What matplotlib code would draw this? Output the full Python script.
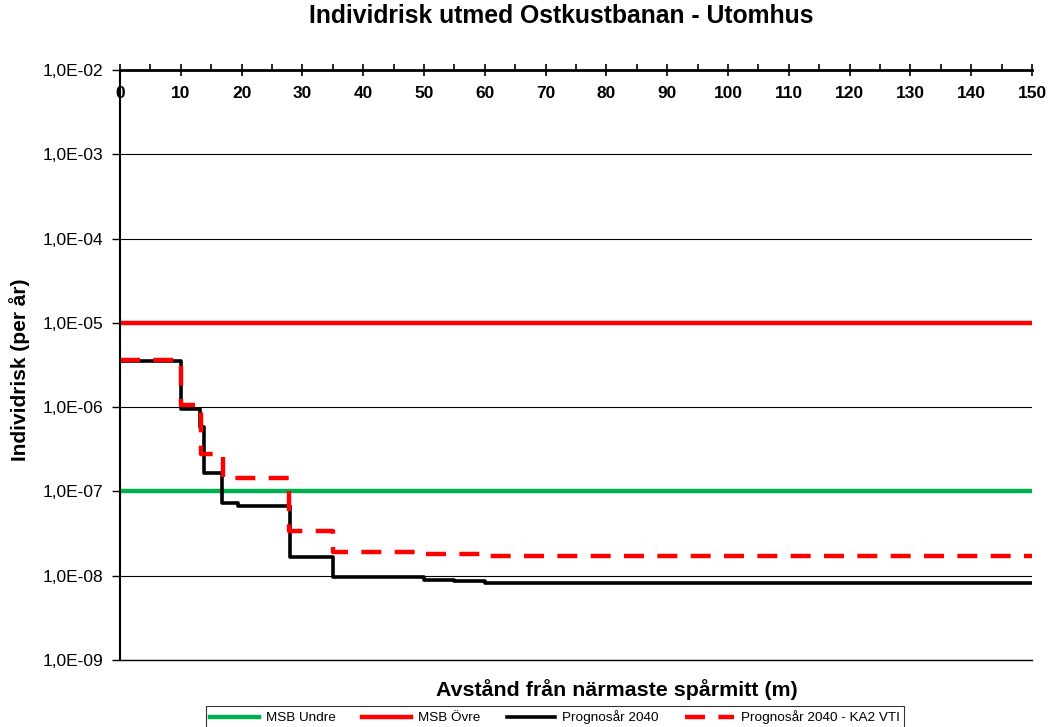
import matplotlib.pyplot as plt
from matplotlib.ticker import FixedLocator, FuncFormatter, MultipleLocator, NullLocator
import numpy as np

plt.rcParams['font.family'] = ['Liberation Sans', 'DejaVu Sans']

# avstånd (m) där stegen börjar och risknivå (per år)
x_prognos = [0, 10, 13.2, 13.8, 16.8, 19.4, 28, 35, 50, 55, 60, 150]
y_prognos = [3.5e-6, 9.5e-7, 5.8e-7, 1.65e-7, 7.3e-8, 6.8e-8, 1.65e-8,
             9.6e-9, 9.0e-9, 8.6e-9, 8.3e-9, 8.3e-9]

x_ka2 = [0, 10, 13.4, 17, 27.8, 35, 50, 60, 150]
y_ka2 = [3.6e-6, 1.07e-6, 2.8e-7, 1.45e-7, 3.4e-8, 1.9e-8, 1.8e-8, 1.7e-8, 1.7e-8]

msb_undre = 1e-7
msb_ovre = 1e-5
x_range = [0, 150]
y_ticks = [1e-9, 1e-8, 1e-7, 1e-6, 1e-5, 1e-4, 1e-3, 1e-2]


def sci_comma(v, pos):
    e = int(round(np.log10(v)))
    return f"1,0E{e:03d}"


fig = plt.figure(figsize=(10.51, 7.27), dpi=100)
ax = fig.add_axes([120 / 1051, 1 - 660 / 727, 912 / 1051, 590 / 727])

ax.plot(x_range, [msb_undre, msb_undre], color='#00b050', lw=3.2, label='MSB Undre')
ax.plot(x_range, [msb_ovre, msb_ovre], color='#ff0000', lw=3.2, label='MSB Övre')
ax.plot(x_prognos, y_prognos, color='black', lw=2.6, drawstyle='steps-post',
        label='Prognosår 2040')
ax.plot(x_ka2, y_ka2, color='#ff0000', lw=3.2, drawstyle='steps-post',
        dashes=(4.5, 3), label='Prognosår 2040 - KA2 VTI')

ax.set_yscale('log')
ax.set_xlim(0, 150)
ax.set_ylim(1e-9, 1e-2)
ax.yaxis.set_major_locator(FixedLocator(y_ticks))
ax.yaxis.set_minor_locator(NullLocator())
ax.yaxis.set_major_formatter(FuncFormatter(sci_comma))
ax.grid(True, axis='y', color='black', lw=0.8)
ax.set_axisbelow(True)

ax.xaxis.set_major_locator(MultipleLocator(10))
ax.xaxis.set_minor_locator(MultipleLocator(5))
ax.tick_params(axis='x', which='both', top=True, bottom=False, labeltop=True,
               labelbottom=False, width=1.2)
ax.tick_params(axis='x', which='major', direction='inout', length=9, pad=-27,
               labelsize=12.5)
ax.tick_params(axis='x', which='minor', direction='out', length=4)
for lab in ax.get_xticklabels():
    lab.set_fontweight('bold')
ax.tick_params(axis='y', length=6, width=1, labelsize=12.5, pad=6)

ax.spines['right'].set_visible(False)
ax.spines['bottom'].set_linewidth(1)
ax.spines['top'].set_linewidth(2)
ax.spines['left'].set_linewidth(1.5)

fig.text(20 / 1051, 1 - 370 / 727, 'Individrisk (per år)', rotation=90,
         ha='center', va='center', fontsize=15, fontweight='bold')
fig.text(617 / 1051, 1 - 690 / 727, 'Avstånd från närmaste spårmitt (m)',
         ha='center', va='center', fontsize=15.4, fontweight='bold')
fig.text(561 / 1051, 1 - 16 / 727, 'Individrisk utmed Ostkustbanan - Utomhus',
         ha='center', va='center', fontsize=17.8, fontweight='bold')

leg = fig.legend(loc='upper center', bbox_to_anchor=(555 / 1051, 1 - 699 / 727),
                 ncol=4, fontsize=9.7, frameon=True, fancybox=False,
                 edgecolor='black', handlelength=3.6, handletextpad=0.5,
                 columnspacing=2.0, borderpad=0.35)
leg.get_frame().set_linewidth(0.8)

fig.savefig('out.png', dpi=100)
